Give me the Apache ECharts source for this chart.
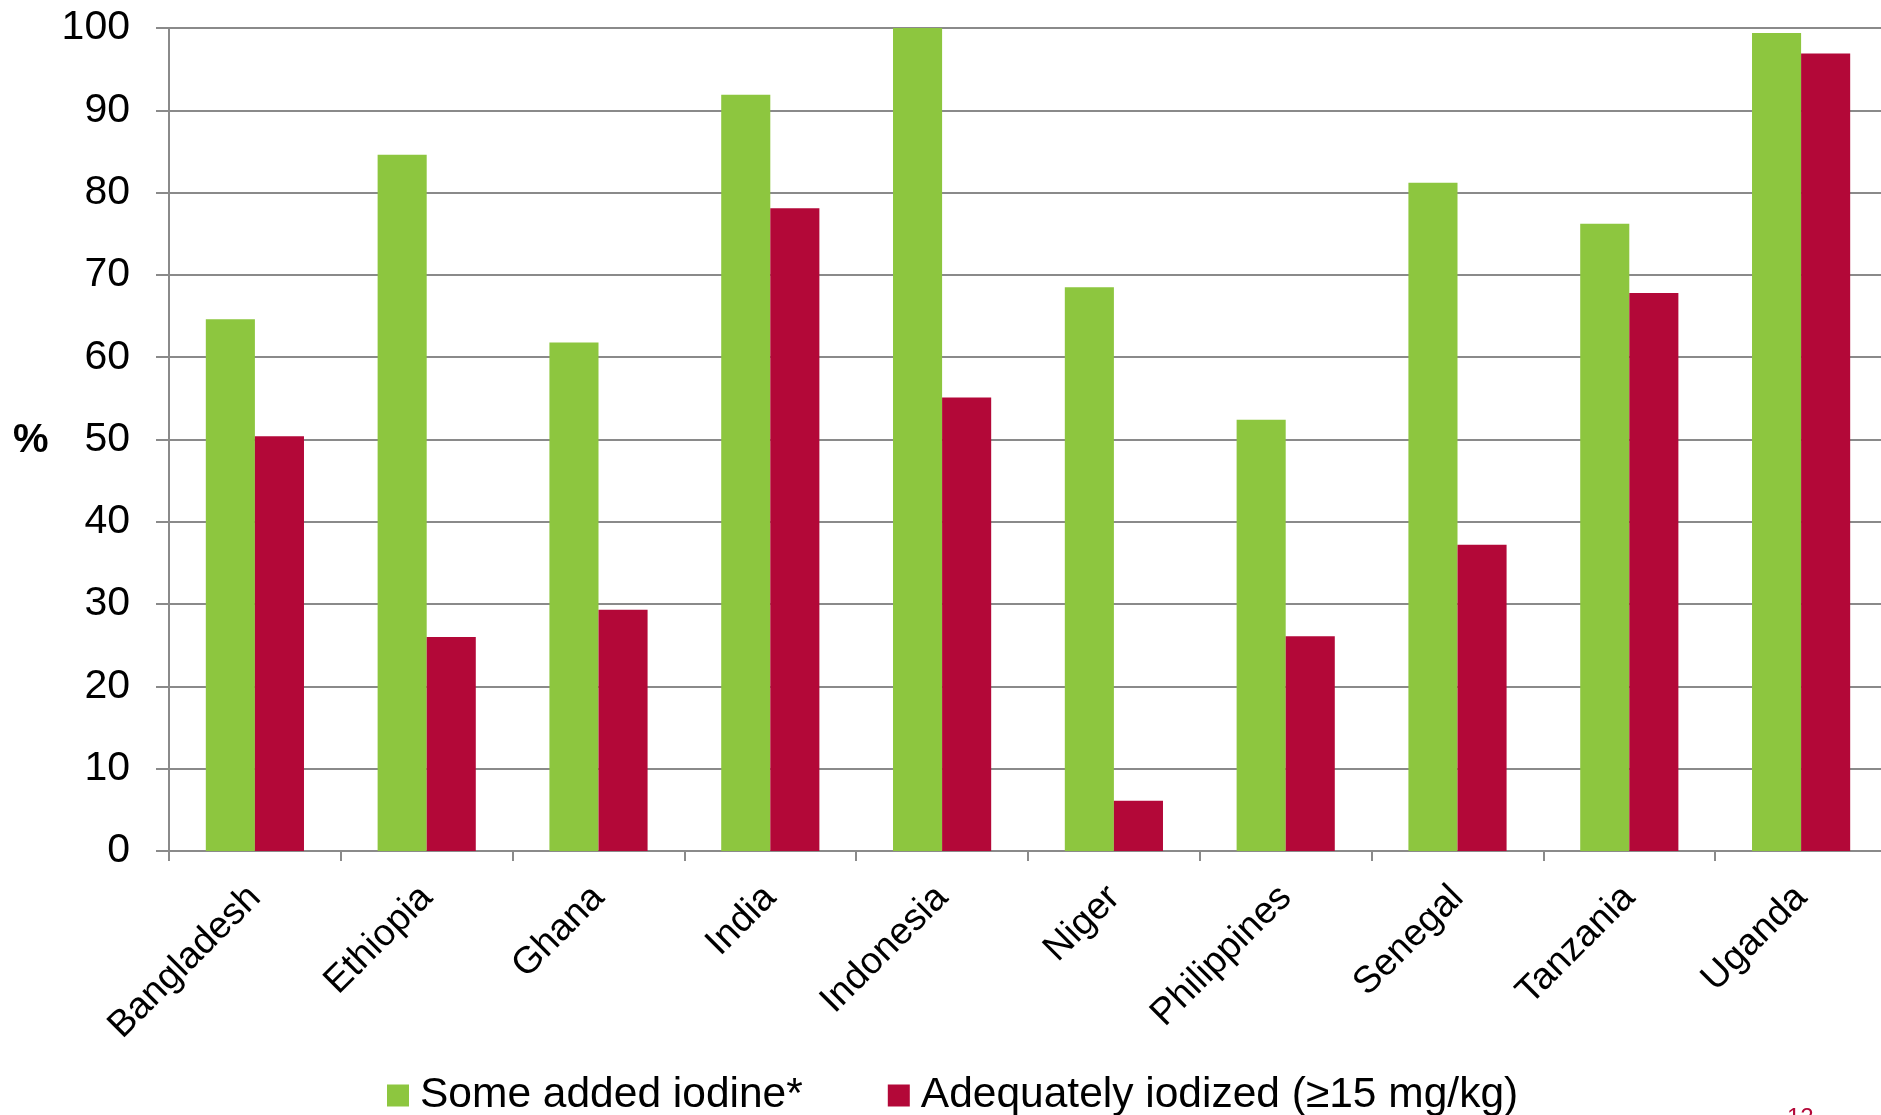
<!DOCTYPE html>
<html>
<head>
<meta charset="utf-8">
<script src="https://cdn.jsdelivr.net/npm/echarts@6/dist/echarts.min.js"></script>
<style>
html,body{margin:0;padding:0;overflow:hidden;background:#fff;}
#chart{width:1890px;height:1115px;}
</style>
</head>
<body>
<div id="chart"></div>
<script>
const categories = ['Bangladesh','Ethiopia','Ghana','India','Indonesia','Niger','Philippines','Senegal','Tanzania','Uganda'];
const someAddedIodine = [64.6, 84.6, 61.8, 91.9, 100, 68.5, 52.4, 81.2, 76.2, 99.4];
const adequatelyIodized = [50.4, 26.0, 29.3, 78.1, 55.1, 6.1, 26.1, 37.2, 67.8, 96.9];
const seriesNames = ['Some added iodine*', 'Adequately iodized (\u226515 mg/kg)'];
const yTicks = [0, 10, 20, 30, 40, 50, 60, 70, 80, 90, 100];

const FONT = 'Liberation Sans, Arial, Helvetica, sans-serif';
const GREEN = '#8dc63f';
const RED = '#b30838';
const GRAY = '#8a8a8a';

const chart = echarts.init(document.getElementById('chart'), null, {renderer: 'canvas'});
chart.setOption({
  animation: false,
  backgroundColor: '#ffffff',
  grid: {left: 169, right: 3, top: 28, bottom: 264, containLabel: false},
  legend: {
    left: 382, top: 1069,
    itemWidth: 22, itemHeight: 22, itemGap: 85,
    icon: 'rect',
    textStyle: {fontFamily: FONT, fontSize: 42.5, color: '#000', padding: [0, 0, 0, 6]},
    data: seriesNames
  },
  xAxis: {
    type: 'category',
    data: categories,
    boundaryGap: true,
    axisLine: {lineStyle: {color: GRAY, width: 2}},
    axisTick: {show: true, length: 10, lineStyle: {color: GRAY, width: 2}},
    axisLabel: {rotate: 45, interval: 0, margin: 41, fontFamily: FONT, fontSize: 37.5, color: '#000'}
  },
  yAxis: {
    type: 'value',
    min: yTicks[0], max: yTicks[yTicks.length - 1], interval: 10,
    axisLine: {show: true, lineStyle: {color: GRAY, width: 2}},
    axisTick: {show: true, length: 13, lineStyle: {color: GRAY, width: 2}},
    axisLabel: {margin: 39, fontFamily: FONT, fontSize: 41, color: '#000'},
    splitLine: {show: true, lineStyle: {color: GRAY, width: 2}}
  },
  graphic: [
    {type: 'text', left: 13, top: 421, style: {text: '%', font: 'bold 40px ' + FONT, fill: '#000'}},
    {type: 'text', left: 1787, top: 1106, style: {text: '12', font: '24px ' + FONT, fill: RED}}
  ],
  series: [
    {name: seriesNames[0], type: 'bar', data: someAddedIodine, barGap: '0%', barCategoryGap: '42.857%',
     itemStyle: {color: GREEN}},
    {name: seriesNames[1], type: 'bar', data: adequatelyIodized, barGap: '0%', barCategoryGap: '42.857%',
     itemStyle: {color: RED}}
  ]
});
</script>
</body>
</html>
